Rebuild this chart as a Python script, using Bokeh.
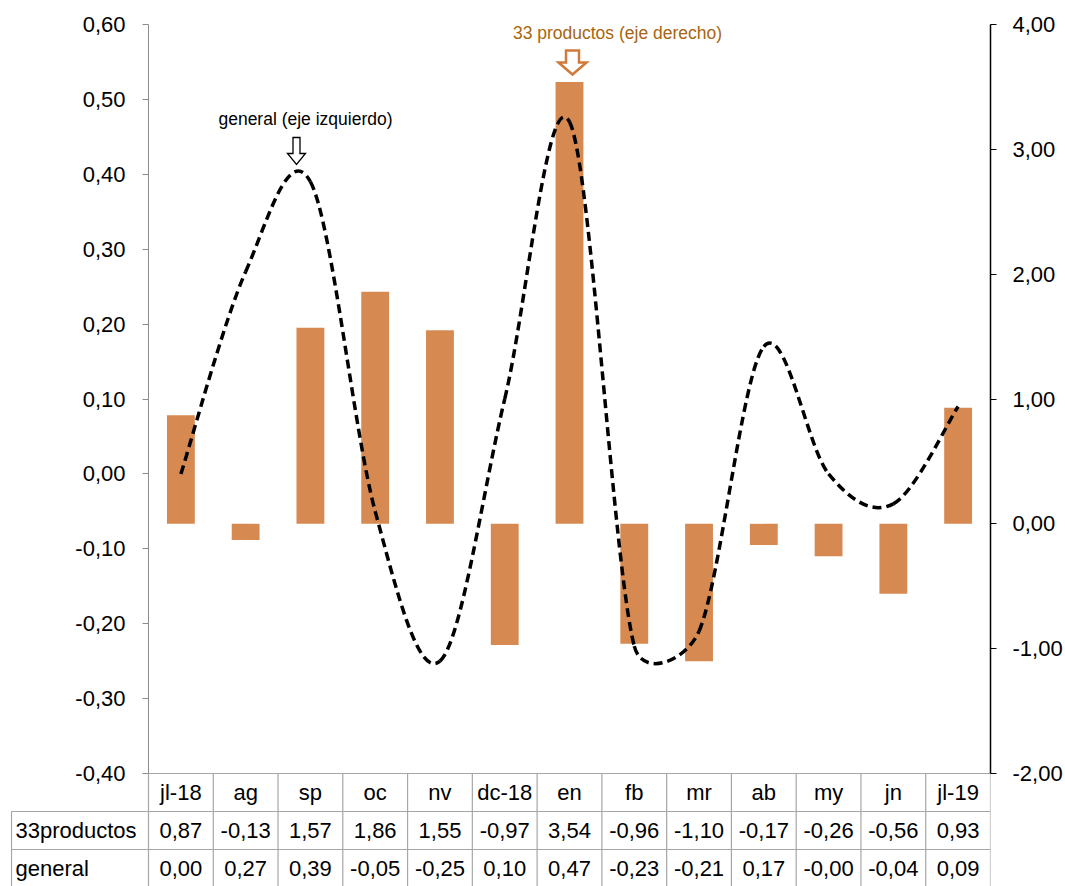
import math
from bokeh.plotting import figure
from bokeh.models import Range1d, LinearAxis, FixedTicker, CustomJSTickFormatter, Label
from bokeh.core.properties import value
from bokeh.embed import file_html
from bokeh.resources import INLINE

# ---- data ----
categories = ["jl-18", "ag", "sp", "oc", "nv", "dc-18", "en", "fb", "mr", "ab", "my", "jn", "jl-19"]
productos33 = [0.87, -0.13, 1.57, 1.86, 1.55, -0.97, 3.54, -0.96, -1.10, -0.17, -0.26, -0.56, 0.93]
general = [0.00, 0.27, 0.39, -0.05, -0.25, 0.10, 0.47, -0.23, -0.21, 0.17, -0.00, -0.04, 0.09]
productos33_labels = ["0,87", "-0,13", "1,57", "1,86", "1,55", "-0,97", "3,54", "-0,96", "-1,10", "-0,17", "-0,26", "-0,56", "0,93"]
general_labels = ["0,00", "0,27", "0,39", "-0,05", "-0,25", "0,10", "0,47", "-0,23", "-0,21", "0,17", "-0,00", "-0,04", "0,09"]
row_names = ["33productos", "general"]
left_ticks = [-0.4, -0.3, -0.2, -0.1, 0.0, 0.1, 0.2, 0.3, 0.4, 0.5, 0.6]
right_ticks = [-2, -1, 0, 1, 2, 3, 4]

FONT = "Liberation Sans"
BAR = "#D68A52"
GRID = "#A6A6A6"
FS = "22px"

n = len(categories)
idx = list(range(n))

W, H = 1065, 886
PX = 64.77       # px per category
PY = 749.0       # px per unit of left axis
TOP = 24.0       # page y of the 0,60 / 4,00 level
x_start = -0.5 - 138.0 / PX
left_hi = 0.6 + TOP / PY
left_lo = 0.6 - (H - TOP) / PY
right_hi = 4.0 + 6.0 * TOP / PY
right_lo = 4.0 - 6.0 * (H - TOP) / PY
ROW = 38.0

p = figure(width=W, height=H, output_backend="svg", toolbar_location=None,
           x_axis_location=None, y_axis_location=None,
           x_range=Range1d(x_start, 12.5), y_range=Range1d(left_lo, left_hi),
           min_border_left=10, min_border_right=75, min_border_top=0, min_border_bottom=0,
           outline_line_color=None, background_fill_color="white")
p.extra_y_ranges = {"right": Range1d(right_lo, right_hi),
                    "table": Range1d(1.0 / ROW, 887.0 / ROW)}
p.grid.visible = False

fmt = CustomJSTickFormatter(code="return tick.toFixed(2).replace('.', ',');")

ax_l = LinearAxis(ticker=FixedTicker(ticks=left_ticks), formatter=fmt, fixed_location=-0.5,
                  bounds=(-0.4, 0.6))
ax_l.axis_line_color = "#8C8C8C"
ax_l.major_tick_line_color = "#8C8C8C"
ax_l.major_tick_out = 6
ax_l.major_tick_in = 0
ax_l.minor_tick_line_color = None
ax_l.major_label_standoff = 17
ax_l.major_label_text_font = FONT
ax_l.major_label_text_font_size = FS
ax_l.major_label_text_color = "black"
p.add_layout(ax_l, "left")

ax_r = LinearAxis(y_range_name="right", ticker=FixedTicker(ticks=right_ticks), formatter=fmt,
                  bounds=(-2, 4))
ax_r.axis_line_color = "black"
ax_r.axis_line_width = 1.5
ax_r.major_tick_line_color = "black"
ax_r.major_tick_out = 6
ax_r.major_tick_in = 0
ax_r.minor_tick_line_color = None
ax_r.major_label_standoff = 16
ax_r.major_label_text_font = FONT
ax_r.major_label_text_font_size = FS
ax_r.major_label_text_color = "black"
p.add_layout(ax_r, "right")

# bars (right axis)
p.vbar(x=idx, top=productos33, bottom=0, width=0.43, y_range_name="right",
       fill_color=BAR, line_color=None)

# smoothed dashed line (left axis): bezier segments through the data points,
# control points like a spreadsheet "smoothed line" (1/6 tension, limited to half a segment)
def ctrl(pa, pb, seg_len):
    dx = (pb[0] - pa[0]) * PX / 6.0
    dy = (pb[1] - pa[1]) * PY / 6.0
    d = math.hypot(dx, dy)
    if d > seg_len / 2.0 and d > 0:
        s = (seg_len / 2.0) / d
        dx, dy = dx * s, dy * s
    return dx / PX, dy / PY

pts = list(zip(idx, general))
ext = [pts[0]] + pts + [pts[-1]]
x0, y0, x1, y1, cx0, cy0, cx1, cy1 = [], [], [], [], [], [], [], []
for i in range(n - 1):
    a, b = pts[i], pts[i + 1]
    seg = math.hypot((b[0] - a[0]) * PX, (b[1] - a[1]) * PY)
    d0 = ctrl(ext[i], ext[i + 2], seg)
    d1 = ctrl(ext[i + 1], ext[i + 3], seg)
    x0.append(a[0]); y0.append(a[1]); x1.append(b[0]); y1.append(b[1])
    cx0.append(a[0] + d0[0]); cy0.append(a[1] + d0[1])
    cx1.append(b[0] - d1[0]); cy1.append(b[1] - d1[1])
p.bezier(x0=x0, y0=y0, x1=x1, y1=y1, cx0=cx0, cy0=cy0, cx1=cx1, cy1=cy1,
         line_color="black", line_width=3.5, line_dash="9 5")

# annotations (positions given in page pixels, converted to data coordinates)
def xd(px):
    return (px - 148.0) / PX - 0.5

def yl(py):
    return 0.6 - (py - TOP) / PY

def yr(py):
    return 4.0 - 6.0 * (py - TOP) / PY

def arrow(cx_px, top_px, neck_px, tip_px, shaft_hw, head_hw, yfun, rng, color, lw):
    xs = [cx_px - shaft_hw, cx_px + shaft_hw, cx_px + shaft_hw, cx_px + head_hw, cx_px,
          cx_px - head_hw, cx_px - shaft_hw]
    ys = [top_px, top_px, neck_px, neck_px, tip_px, neck_px, neck_px]
    p.patch([xd(v) for v in xs], [yfun(v) for v in ys], y_range_name=rng,
            fill_color="white", line_color=color, line_width=lw, line_join="miter")

arrow(296, 137, 153, 164, 3.5, 9, yl, "default", "black", 1.3)
arrow(572, 50, 62, 74, 6.5, 14, yr, "right", "#D07A3C", 2.5)

p.add_layout(Label(x=xd(305), y=yl(118), text="general (eje izquierdo)",
                   text_align="center", text_baseline="middle", text_font=FONT,
                   text_font_size="17.5px", text_color="black"))
p.add_layout(Label(x=xd(617), y=yr(32), y_range_name="right",
                   text="33 productos (eje derecho)",
                   text_align="center", text_baseline="middle", text_font=FONT,
                   text_font_size="17.5px", text_color="#A8650F"))

# data table below the chart
lx = x_start + 1.0 / PX
vx = [k - 0.5 for k in range(n + 1)]
p.segment(x0=vx, y0=[0] * len(vx), x1=vx, y1=[3] * len(vx), y_range_name="table",
          line_color=GRID, line_width=1.2)
p.segment(x0=[lx, -0.5, lx, lx], y0=[0, 3, 2, 1], x1=[lx, 12.5, 12.5, 12.5], y1=[2, 3, 2, 1],
          y_range_name="table", line_color=GRID, line_width=1.2)

for yrow, labels in ((2.5, categories), (1.5, productos33_labels), (0.5, general_labels)):
    p.text(x=idx, y=[yrow] * n, text=labels, y_range_name="table", text_align="center",
           text_baseline="middle", text_font=value(FONT), text_font_size=FS, text_color="black")
p.text(x=[lx + 4.0 / PX] * 2, y=[1.5, 0.5], text=row_names, y_range_name="table", text_align="left",
       text_baseline="middle", text_font=value(FONT), text_font_size=FS, text_color="black")

open("out.html", "w").write(file_html(p, INLINE))
